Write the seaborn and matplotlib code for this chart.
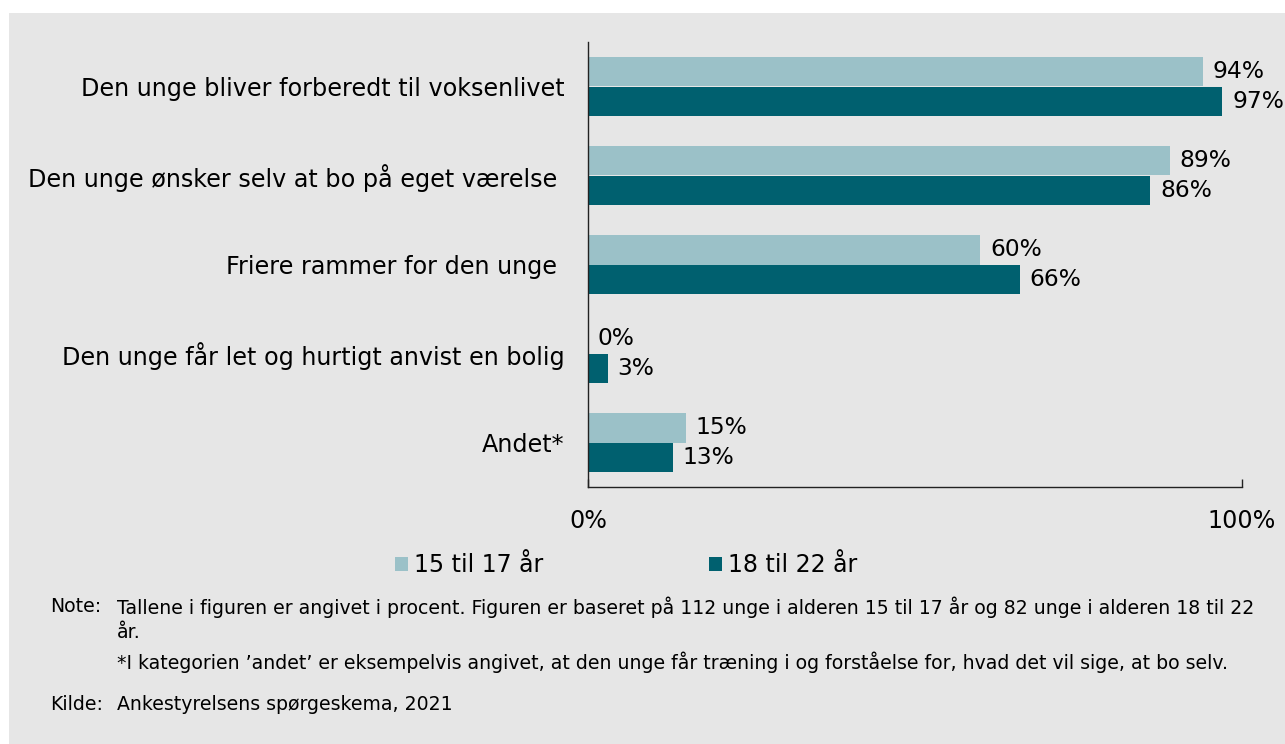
import pandas as pd
import matplotlib.pyplot as plt
import seaborn as sns
from matplotlib.patches import Patch, Rectangle

sns.set_style("white", rc={
    'text.color': 'black',
    'axes.labelcolor': 'black',
    'xtick.color': 'black',
    'ytick.color': 'black',
    'xtick.bottom': True,
})
plt.rcParams['font.family'] = ['DejaVu Sans']

# data
categories = [
    'Den unge bliver forberedt til voksenlivet',
    'Den unge ønsker selv at bo på eget værelse ',
    'Friere rammer for den unge ',
    'Den unge får let og hurtigt anvist en bolig',
    'Andet*',
]
groups = ['15 til 17 år', '18 til 22 år']
age_15_17 = [94, 89, 60, 0, 15]
age_18_22 = [97, 86, 66, 3, 13]
colors = ['#9bc1c8', '#00606f']
bg = '#e6e6e6'

df = pd.DataFrame({
    'Kategori': categories * 2,
    'Gruppe': [groups[0]] * len(categories) + [groups[1]] * len(categories),
    'Andel': age_15_17 + age_18_22,
})

fs = 17.2
fig = plt.figure(figsize=(12.85, 7.44), dpi=100, facecolor='white')
fig.patches.append(Rectangle((9 / 1285, 0), 1, 1 - 13 / 744, transform=fig.transFigure,
                             facecolor=bg, edgecolor='none', zorder=-10))
ax = fig.add_axes([588 / 1285, 1 - 487 / 744, (1242 - 588) / 1285, (487 - 42) / 744])
ax.set_facecolor(bg)

sns.barplot(data=df, y='Kategori', x='Andel', hue='Gruppe', palette=colors,
            width=0.67, orient='h', ax=ax, legend=False, errorbar=None,
            saturation=1, edgecolor='none')

for cont in ax.containers:
    vals = [int(round(b.get_width())) for b in cont]
    ax.bar_label(cont, labels=[f'{v}%' for v in vals], padding=7, fontsize=16.8,
                 color='black')

ax.set_xlim(0, 100)
ax.set_ylim(4.5, -0.5)
ax.set_xticks([0, 100])
ax.set_xticklabels(['0%', '100%'])
ax.set_xlabel('')
ax.set_ylabel('')
for s in ['top', 'right']:
    ax.spines[s].set_visible(False)
for s in ['left', 'bottom']:
    ax.spines[s].set_color('#222222')
    ax.spines[s].set_linewidth(1)
ax.tick_params(axis='x', bottom=True, direction='in', length=6, width=1,
               color='#222222', labelsize=fs, pad=16)
ax.tick_params(axis='y', left=False, length=0, labelsize=fs, pad=17)

handles = [Patch(facecolor=c, edgecolor='none', label=g) for c, g in zip(colors, groups)]
fig.legend(handles=handles, loc='center', bbox_to_anchor=(626 / 1285, 1 - 565 / 744),
           ncol=2, frameon=False, fontsize=17, columnspacing=7.0,
           handlelength=0.55, handleheight=0.55, handletextpad=0.25)

note_size = 13.6
fig.text(50 / 1285, 1 - 607 / 744, 'Note:', fontsize=note_size, va='center')
fig.text(117 / 1285, 1 - 607 / 744,
         'Tallene i figuren er angivet i procent. Figuren er baseret på 112 unge i alderen '
         '15 til 17 år og 82 unge i alderen 18 til 22', fontsize=note_size, va='center')
fig.text(117 / 1285, 1 - 633 / 744, 'år.', fontsize=note_size, va='center')
fig.text(117 / 1285, 1 - 662 / 744,
         '*I kategorien ’andet’ er eksempelvis angivet, at den unge får træning i og '
         'forståelse for, hvad det vil sige, at bo selv.', fontsize=note_size, va='center')
fig.text(50 / 1285, 1 - 704 / 744, 'Kilde:', fontsize=note_size, va='center')
fig.text(117 / 1285, 1 - 704 / 744, 'Ankestyrelsens spørgeskema, 2021',
         fontsize=note_size, va='center')

fig.savefig('out.png', dpi=100, facecolor='white')
